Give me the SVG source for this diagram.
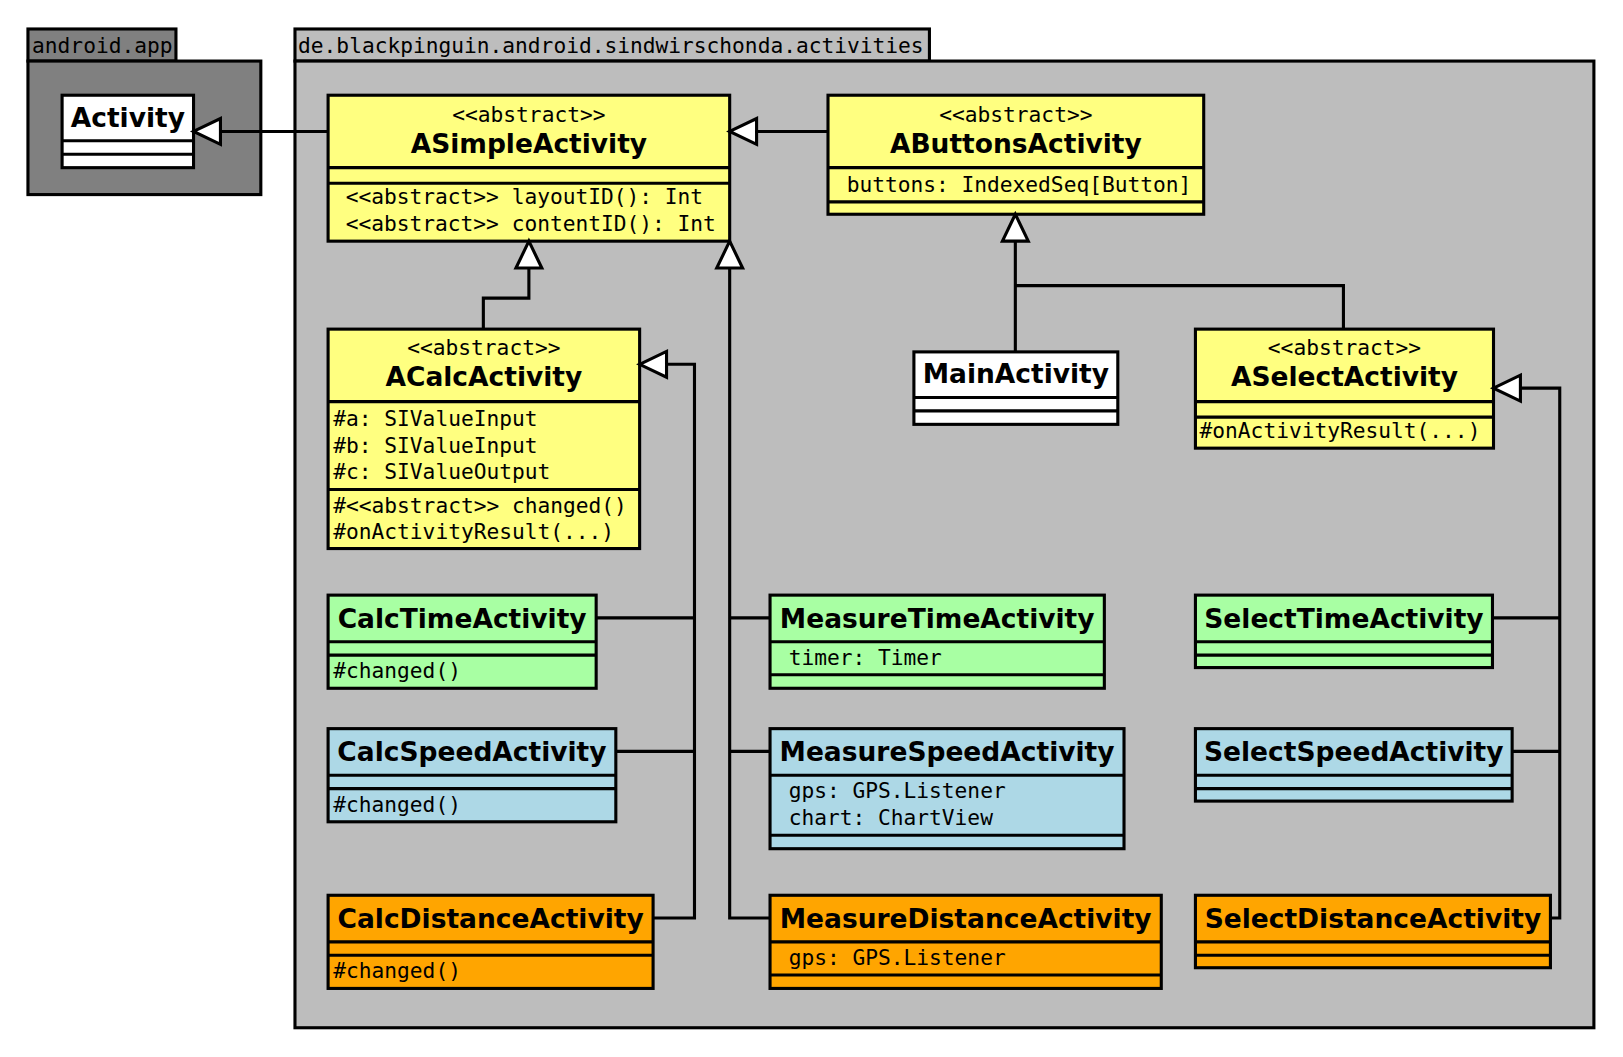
<svg xmlns="http://www.w3.org/2000/svg" width="1623" height="1057" viewBox="0 0 1623 1057">
<style>
.pkg{fill:#bdbdbd;stroke:#000;stroke-width:3}
.pkgd{fill:#808080;stroke:#000;stroke-width:3}
.box{stroke:#000;stroke-width:3}
.sep{stroke:#000;stroke-width:3;fill:none}
.y{fill:#ffff80}.w{fill:#fff}.g{fill:#a8ffa3}.b{fill:#add8e6}.o{fill:#ffa500}
.nm{font-family:"DejaVu Sans","Liberation Sans",sans-serif;font-weight:bold;font-size:25.6px;text-anchor:middle;fill:#000}
.mono{font-family:"DejaVu Sans Mono","Liberation Mono",monospace;font-size:20.5px;fill:#000}
.st{text-anchor:middle}
.ln{fill:none;stroke:#000;stroke-width:3}
.tri{fill:#fff;stroke:#000;stroke-width:3;stroke-linejoin:miter}
</style>
<rect width="1623" height="1057" fill="#fff"/>
<g transform="scale(1.035)">
<g id="pkg-android">
<rect class="pkgd" x="27" y="28" width="143" height="31"/>
<rect class="pkgd" x="27" y="59" width="225" height="129"/>
<text class="mono" x="31" y="51.4">android.app</text>
</g>
<g id="pkg-activities">
<rect class="pkg" x="285" y="28" width="613" height="31"/>
<rect class="pkg" x="285" y="59" width="1255" height="934"/>
<text class="mono" x="288" y="51.4">de.blackpinguin.android.sindwirschonda.activities</text>
</g>

<g id="Activity">
<rect class="box w" x="60" y="92" width="127" height="70"/>
<path class="sep" d="M60 136H187M60 149H187"/>
<text class="nm" x="123.5" y="122.3">Activity</text>
</g>

<g id="ASimpleActivity">
<rect class="box y" x="317" y="92" width="388" height="141"/>
<path class="sep" d="M317 162H705M317 177H705"/>
<text class="mono st" x="511" y="117.4">&lt;&lt;abstract&gt;&gt;</text>
<text class="nm" x="511" y="148.3">ASimpleActivity</text>
<text class="mono" x="334" y="197.4">&lt;&lt;abstract&gt;&gt; layoutID(): Int</text>
<text class="mono" x="334" y="223.4">&lt;&lt;abstract&gt;&gt; contentID(): Int</text>
</g>

<g id="AButtonsActivity">
<rect class="box y" x="800" y="92" width="363" height="115"/>
<path class="sep" d="M800 162H1163M800 195H1163"/>
<text class="mono st" x="981.5" y="117.4">&lt;&lt;abstract&gt;&gt;</text>
<text class="nm" x="981.5" y="148.3">AButtonsActivity</text>
<text class="mono" x="818" y="185.4">buttons: IndexedSeq[Button]</text>
</g>

<g id="ACalcActivity">
<rect class="box y" x="317" y="318" width="301" height="212"/>
<path class="sep" d="M317 388H618M317 473H618"/>
<text class="mono st" x="467.5" y="343.4">&lt;&lt;abstract&gt;&gt;</text>
<text class="nm" x="467.5" y="373.3">ACalcActivity</text>
<text class="mono" x="322" y="411.4">#a: SIValueInput</text>
<text class="mono" x="322" y="437.4">#b: SIValueInput</text>
<text class="mono" x="322" y="462.4">#c: SIValueOutput</text>
<text class="mono" x="322" y="495.4">#&lt;&lt;abstract&gt;&gt; changed()</text>
<text class="mono" x="322" y="520.4">#onActivityResult(...)</text>
</g>

<g id="MainActivity">
<rect class="box w" x="883" y="340" width="197" height="70"/>
<path class="sep" d="M883 384H1080M883 397H1080"/>
<text class="nm" x="981.5" y="370.3">MainActivity</text>
</g>

<g id="ASelectActivity">
<rect class="box y" x="1155" y="318" width="288" height="115"/>
<path class="sep" d="M1155 388H1443M1155 403H1443"/>
<text class="mono st" x="1299" y="343.4">&lt;&lt;abstract&gt;&gt;</text>
<text class="nm" x="1299" y="373.3">ASelectActivity</text>
<text class="mono" x="1159" y="423.4">#onActivityResult(...)</text>
</g>

<g id="CalcTimeActivity">
<rect class="box g" x="317" y="575" width="259" height="90"/>
<path class="sep" d="M317 620H576M317 633H576"/>
<text class="nm" x="446.5" y="606.3">CalcTimeActivity</text>
<text class="mono" x="322" y="655.4">#changed()</text>
</g>
<g id="CalcSpeedActivity">
<rect class="box b" x="317" y="704" width="278" height="90"/>
<path class="sep" d="M317 749H595M317 762H595"/>
<text class="nm" x="456" y="735.3">CalcSpeedActivity</text>
<text class="mono" x="322" y="784.4">#changed()</text>
</g>
<g id="CalcDistanceActivity">
<rect class="box o" x="317" y="865" width="314" height="90"/>
<path class="sep" d="M317 910H631M317 923H631"/>
<text class="nm" x="474" y="896.3">CalcDistanceActivity</text>
<text class="mono" x="322" y="945.4">#changed()</text>
</g>

<g id="MeasureTimeActivity">
<rect class="box g" x="744" y="575" width="323" height="90"/>
<path class="sep" d="M744 620H1067M744 652H1067"/>
<text class="nm" x="905.5" y="606.3">MeasureTimeActivity</text>
<text class="mono" x="762" y="642.4">timer: Timer</text>
</g>
<g id="MeasureSpeedActivity">
<rect class="box b" x="744" y="704" width="342" height="116"/>
<path class="sep" d="M744 749H1086M744 807H1086"/>
<text class="nm" x="915" y="735.3">MeasureSpeedActivity</text>
<text class="mono" x="762" y="771.4">gps: GPS.Listener</text>
<text class="mono" x="762" y="797.4">chart: ChartView</text>
</g>
<g id="MeasureDistanceActivity">
<rect class="box o" x="744" y="865" width="378" height="90"/>
<path class="sep" d="M744 910H1122M744 942H1122"/>
<text class="nm" x="933" y="896.3">MeasureDistanceActivity</text>
<text class="mono" x="762" y="932.4">gps: GPS.Listener</text>
</g>

<g id="SelectTimeActivity">
<rect class="box g" x="1155" y="575" width="287" height="70"/>
<path class="sep" d="M1155 620H1442M1155 633H1442"/>
<text class="nm" x="1298.5" y="606.3">SelectTimeActivity</text>
</g>
<g id="SelectSpeedActivity">
<rect class="box b" x="1155" y="704" width="306" height="70"/>
<path class="sep" d="M1155 749H1461M1155 762H1461"/>
<text class="nm" x="1308" y="735.3">SelectSpeedActivity</text>
</g>
<g id="SelectDistanceActivity">
<rect class="box o" x="1155" y="865" width="343" height="70"/>
<path class="sep" d="M1155 910H1498M1155 923H1498"/>
<text class="nm" x="1326.5" y="896.3">SelectDistanceActivity</text>
</g>

<g id="connectors">
<path class="ln" d="M317 127H213"/>
<polygon class="tri" points="187,127 213,114.5 213,139.5"/>
<path class="ln" d="M800 127H731"/>
<polygon class="tri" points="705,127 731,114.5 731,139.5"/>
<path class="ln" d="M467 318V288H511V259"/>
<polygon class="tri" points="511,233 498.5,259 523.5,259"/>
<path class="ln" d="M981 340V233M1298 318V276H981"/>
<polygon class="tri" points="981,207 968.5,233 993.5,233"/>
<path class="ln" d="M744 887H705V259M705 597H744M705 726H744"/>
<polygon class="tri" points="705,233 692.5,259 717.5,259"/>
<path class="ln" d="M631 887H671V352H644M576 597H671M595 726H671"/>
<polygon class="tri" points="618,352 644,339.5 644,364.5"/>
<path class="ln" d="M1498 887H1507V375H1469M1442 597H1507M1461 726H1507"/>
<polygon class="tri" points="1443,375 1469,362.5 1469,387.5"/>
</g>
</g>
</svg>
